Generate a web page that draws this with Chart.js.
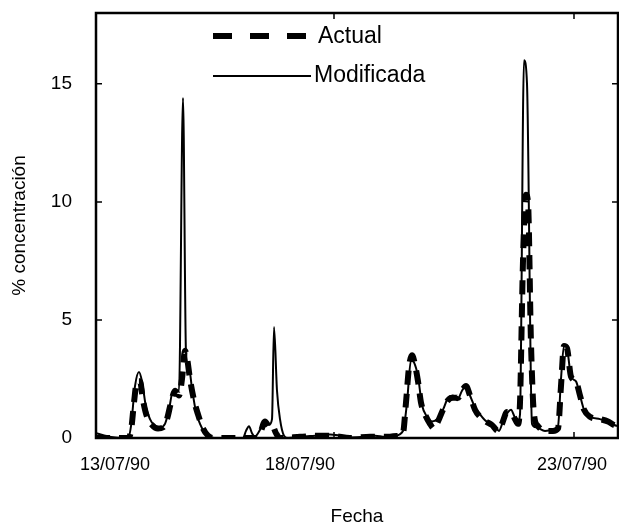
<!DOCTYPE html>
<html>
<head>
<meta charset="utf-8">
<script src="https://cdn.jsdelivr.net/npm/chart.js@4/dist/chart.umd.min.js"></script>
<style>
  html, body { margin: 0; padding: 0; background: #fff; }
  #wrap { width: 619px; height: 525px; }
</style>
</head>
<body>
<div id="wrap"><canvas id="chart" width="619" height="525"></canvas></div>
<script>
// hours since 13/07/90 00:00
var actualHours = [1, 17, 18.5, 20, 21.5, 23, 24.5, 26.5, 29, 32, 34.5, 36.5, 38.5, 40.5, 42.5, 44, 45.5, 46.5, 48, 50, 52, 54.5, 57, 59.5,
	82, 83.5, 85.5, 87.5, 89, 91, 93, 103, 113, 120.5, 128, 138, 145.5, 153, 154.5, 156, 157.5, 159, 160.5, 162, 163.5, 165.5, 168, 170,
	172, 174.5, 177, 179.5, 182, 184, 186, 188, 190.5, 193, 196, 199, 202, 204, 206.5, 208.5, 210.5, 212, 213, 214.5, 216, 217, 218.5,
	220, 222, 225.5, 229.5, 232, 233.5, 235, 236.5, 238.5, 241, 243, 245, 248, 253, 257, 260, 262];
var actualValues = [0, 0, 0.3, 1.5, 2.4, 2.4, 1.6, 0.9, 0.55, 0.4, 0.45, 0.8, 1.5, 2.0, 1.8, 2.5, 3.7, 3.4, 2.5, 1.6, 1.0, 0.4, 0.1, 0,
	0, 0.3, 0.7, 0.5, 0.55, 0.2, 0, 0.05, 0.1, 0.08, 0, 0.05, 0.05, 0.1, 0.2, 1.5, 3.0, 3.5, 3.1, 2.4, 1.5, 1.0, 0.6, 0.4,
	0.7, 1.2, 1.6, 1.7, 1.7, 2.0, 2.2, 1.8, 1.2, 0.9, 0.7, 0.55, 0.3, 0.6, 1.1, 1.1, 0.8, 0.6, 1.5, 7.5, 10.3, 10.0, 4.0,
	1.0, 0.5, 0.3, 0.3, 0.4, 2.2, 3.9, 3.8, 2.6, 2.4, 1.8, 1.2, 0.9, 0.8, 0.7, 0.55, 0.5];

var modHours = [1, 5.5, 10.5, 17, 18.5, 20.5, 22.5, 24, 26, 28, 30, 33, 35.5, 37.5, 39.5, 42.5, 44.5, 46, 47.5, 49, 51, 53, 55.5, 58, 60.5,
	74.5, 76, 77.5, 79, 80.5, 82, 84, 85.5, 87.5, 89, 90, 91.5, 93, 95, 97, 103, 110.5, 118, 123, 128, 135.5, 140.5, 145.5, 150.5,
	154.5, 156.5, 158.5, 160, 162, 164, 166.5, 169, 171.5, 174.5, 177, 179.5, 181.5, 184, 186, 188, 190.5, 193, 195.5, 198, 200.5,
	202.5, 204.5, 207, 208.5, 210.5, 212, 213, 215, 216.5, 219, 221, 225.5, 229.5, 232, 233.5, 235, 236.5, 238.5, 241, 243, 245,
	248, 253, 257, 260, 262];
var modValues = [0.2, 0.1, 0.02, 0, 0.5, 2.2, 2.8, 2.4, 1.3, 0.8, 0.55, 0.45, 0.6, 1.2, 2.0, 2.0, 14.4, 3.6, 3.0, 2.1, 1.1, 0.6, 0.2, 0.02, 0,
	0, 0.3, 0.5, 0.2, 0.05, 0.2, 0.5, 0.65, 0.55, 0.8, 4.7, 2.0, 0.8, 0.1, 0, 0.05, 0.1, 0.15, 0.1, 0.02, 0.05, 0.1, 0.05, 0.1,
	0.3, 1.5, 3.3, 3.2, 2.6, 1.4, 0.9, 0.7, 0.8, 1.2, 1.7, 1.8, 1.6, 2.0, 2.2, 1.8, 1.3, 1.0, 0.75, 0.6, 0.5,
	0.3, 0.7, 1.1, 1.2, 0.85, 0.7, 1.0, 16.0, 15.0, 0.6, 0.45, 0.3, 0.35, 0.5, 2.5, 3.9, 3.8, 2.6, 2.4, 1.8,
	1.2, 0.9, 0.8, 0.7, 0.55, 0.5];

var dateLabels = ["13/07/90", "18/07/90", "23/07/90"];
var labelHours = [10.5, 103, 239];
var tickMarkHours = [120, 240];
var yTicks = [0, 5, 10, 15];

var FONT = "'Liberation Sans', Arial, sans-serif";

function toPoints(xs, ys) {
	return xs.map(function (x, i) {
		return {x: x, y: ys[i]};
	});
}

// labels may overhang the plot, so drop the padding chart.js reserves for them
function noPadding(scale) {
	scale.paddingTop = 0;
	scale.paddingBottom = 0;
	scale.paddingLeft = 0;
	scale.paddingRight = 0;
}

// frame round the plot, ticks pointing inward, legend inside the plot
var framePlugin = {
	id: "frame",
	afterDatasetsDraw: function (chart) {
		var ctx = chart.ctx,
			a = chart.chartArea,
			xs = chart.scales.x,
			ys = chart.scales.y;
		ctx.save();
		ctx.strokeStyle = "#000";
		ctx.lineWidth = 2.5;
		ctx.strokeRect(a.left, a.top, a.right - a.left, a.bottom - a.top);
		ctx.lineWidth = 1.5;
		ctx.beginPath();
		yTicks.forEach(function (v) {
			if (v === 0) return;
			var py = ys.getPixelForValue(v);
			ctx.moveTo(a.left, py);
			ctx.lineTo(a.left + 6, py);
			ctx.moveTo(a.right, py);
			ctx.lineTo(a.right - 6, py);
		});
		tickMarkHours.forEach(function (h) {
			var px = xs.getPixelForValue(h);
			ctx.moveTo(px, a.bottom);
			ctx.lineTo(px, a.bottom - 6);
			ctx.moveTo(px, a.top);
			ctx.lineTo(px, a.top + 6);
		});
		ctx.stroke();
		ctx.restore();
	},
	afterDraw: function (chart) {
		var ctx = chart.ctx;
		ctx.save();
		ctx.strokeStyle = "#000";
		ctx.fillStyle = "#000";
		ctx.lineWidth = 6;
		ctx.setLineDash([19, 18]);
		ctx.beginPath();
		ctx.moveTo(213, 36);
		ctx.lineTo(308, 36);
		ctx.stroke();
		ctx.setLineDash([]);
		ctx.lineWidth = 2;
		ctx.beginPath();
		ctx.moveTo(213, 76);
		ctx.lineTo(311, 76);
		ctx.stroke();
		ctx.font = "23px " + FONT;
		ctx.textBaseline = "middle";
		ctx.fillText("Actual", 318, 37);
		ctx.fillText("Modificada", 314, 76);
		ctx.restore();
	}
};

new Chart(document.getElementById("chart"), {
	type: "line",
	data: {
		datasets: [
			{
				label: "Actual",
				data: toPoints(actualHours, actualValues),
				borderColor: "#000",
				borderWidth: 6,
				borderDash: [14, 9],
				pointRadius: 0,
				cubicInterpolationMode: "monotone",
				fill: false
			},
			{
				label: "Modificada",
				data: toPoints(modHours, modValues),
				borderColor: "#000",
				borderWidth: 2,
				pointRadius: 0,
				cubicInterpolationMode: "monotone",
				fill: false
			}
		]
	},
	options: {
		responsive: false,
		animation: false,
		devicePixelRatio: 1,
		layout: {padding: {top: 13, right: 1, left: 0, bottom: 0}},
		plugins: {
			legend: {display: false},
			tooltip: {enabled: false}
		},
		scales: {
			x: {
				type: "linear",
				min: 1,
				max: 262,
				afterFit: function (scale) {
					scale.height = 87;
					noPadding(scale);
				},
				afterBuildTicks: function (scale) {
					scale.ticks = labelHours.map(function (h) { return {value: h}; });
				},
				grid: {display: false, drawTicks: false},
				border: {display: false},
				ticks: {
					color: "#000",
					padding: 16,
					maxRotation: 0,
					autoSkip: false,
					font: {family: FONT, size: 18},
					callback: function (value, index) { return dateLabels[index]; }
				},
				title: {
					display: true,
					text: "Fecha",
					color: "#000",
					padding: {top: 0, bottom: -3},
					font: {family: FONT, size: 19}
				}
			},
			y: {
				min: 0,
				max: 18,
				afterFit: function (scale) {
					scale.width = 96;
					noPadding(scale);
				},
				afterBuildTicks: function (scale) {
					scale.ticks = yTicks.map(function (v) { return {value: v}; });
				},
				grid: {display: false, drawTicks: false},
				border: {display: false},
				ticks: {
					color: "#000",
					padding: 24,
					font: {family: FONT, size: 19}
				},
				title: {
					display: true,
					text: "% concentración",
					color: "#000",
					padding: {top: 8, bottom: 0},
					font: {family: FONT, size: 19}
				}
			}
		}
	},
	plugins: [framePlugin]
});
</script>
</body>
</html>
